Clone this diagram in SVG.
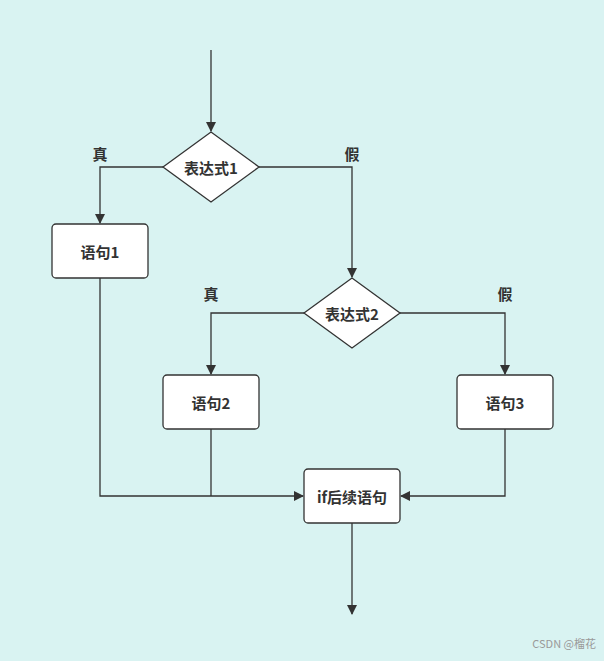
<svg xmlns="http://www.w3.org/2000/svg" width="604" height="661" viewBox="0 0 604 661">
<style>
.n{fill:#fff;stroke:#333;stroke-width:1.3}
.t{font-family:"Noto Sans CJK SC","Liberation Sans",sans-serif;font-size:15px;font-weight:bold;fill:#333;text-anchor:middle;dominant-baseline:central}
.c{fill:none;stroke:#333;stroke-width:1.3;marker-end:url(#a)}
.l{stroke:#333;stroke-width:1.3;fill:none}
</style>
<defs><marker id="a" markerWidth="10" markerHeight="10" refX="9" refY="5" orient="auto" markerUnits="userSpaceOnUse"><path d="M0,0 L10,5 L0,10 Z" fill="#333"/></marker></defs>
<rect width="604" height="661" fill="#d9f3f2"/>
<g id="connectors">
<path class="c" d="M211,50 V131"/>
<path class="c" d="M163,167 H100 V223"/>
<path class="c" d="M259,167 H352 V277"/>
<path class="c" d="M304,313 H211 V374"/>
<path class="c" d="M400,313 H505 V374"/>
<path class="c" d="M100,278 V496 H303"/>
<path class="l" d="M211,429 V496"/>
<path class="c" d="M505,429 V496 H401"/>
<path class="c" d="M352,523 V614"/>
</g>
<g id="labels">
<text class="t" x="100" y="153">真</text>
<text class="t" x="352" y="153">假</text>
<text class="t" x="211" y="293">真</text>
<text class="t" x="505" y="293">假</text>
</g>
<g id="d1"><polygon class="n" points="163,167 211,132 259,167 211,202"/><text class="t" x="211" y="167">表达式1</text></g>
<g id="s1"><rect class="n" x="52" y="224" width="96" height="54" rx="4"/><text class="t" x="100" y="251">语句1</text></g>
<g id="d2"><polygon class="n" points="304,313 352,278 400,313 352,348"/><text class="t" x="352" y="313">表达式2</text></g>
<g id="s2"><rect class="n" x="163" y="375" width="96" height="54" rx="4"/><text class="t" x="211" y="402">语句2</text></g>
<g id="s3"><rect class="n" x="457" y="375" width="96" height="54" rx="4"/><text class="t" x="505" y="402">语句3</text></g>
<g id="s4"><rect class="n" x="304" y="469" width="96" height="54" rx="4"/><text class="t" x="352" y="496">if后续语句</text></g>
<text x="596" y="648" font-family="'Noto Sans CJK SC','Liberation Sans',sans-serif" font-size="11" fill="#999" text-anchor="end">CSDN @榴花</text>
</svg>
